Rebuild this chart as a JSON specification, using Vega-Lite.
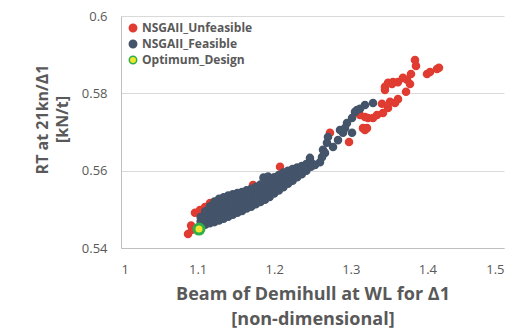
{
  "$schema": "https://vega.github.io/schema/vega-lite/v6.json",
  "autosize": {"type": "none"},
  "padding": {"left": 121, "top": 16, "right": 20, "bottom": 86},
  "width": 383,
  "height": 232,
  "background": "white",
  "config": {
    "view": {"stroke": null},
    "font": "Open Sans",
    "axis": {
      "labelFont": "Open Sans",
      "labelFontSize": 13,
      "labelColor": "#595959",
      "titleFont": "Open Sans",
      "titleFontWeight": "bold",
      "titleColor": "#595959",
      "domainColor": "#BFBFBF",
      "gridColor": "#D9D9D9",
      "ticks": false
    }
  },
  "data": {
    "values": [
      {"x": 1.3838, "y": 0.5886, "series": "NSGAII_Unfeasible"},
      {"x": 1.3851, "y": 0.5871, "series": "NSGAII_Unfeasible"},
      {"x": 1.3786, "y": 0.5850, "series": "NSGAII_Unfeasible"},
      {"x": 1.3995, "y": 0.5850, "series": "NSGAII_Unfeasible"},
      {"x": 1.4034, "y": 0.5855, "series": "NSGAII_Unfeasible"},
      {"x": 1.4125, "y": 0.5863, "series": "NSGAII_Unfeasible"},
      {"x": 1.4151, "y": 0.5866, "series": "NSGAII_Unfeasible"},
      {"x": 1.3734, "y": 0.5835, "series": "NSGAII_Unfeasible"},
      {"x": 1.3681, "y": 0.5840, "series": "NSGAII_Unfeasible"},
      {"x": 1.3616, "y": 0.5829, "series": "NSGAII_Unfeasible"},
      {"x": 1.3551, "y": 0.5829, "series": "NSGAII_Unfeasible"},
      {"x": 1.3486, "y": 0.5827, "series": "NSGAII_Unfeasible"},
      {"x": 1.3446, "y": 0.5817, "series": "NSGAII_Unfeasible"},
      {"x": 1.3446, "y": 0.5809, "series": "NSGAII_Unfeasible"},
      {"x": 1.3538, "y": 0.5824, "series": "NSGAII_Unfeasible"},
      {"x": 1.3773, "y": 0.5824, "series": "NSGAII_Unfeasible"},
      {"x": 1.3721, "y": 0.5804, "series": "NSGAII_Unfeasible"},
      {"x": 1.3616, "y": 0.5785, "series": "NSGAII_Unfeasible"},
      {"x": 1.3577, "y": 0.5775, "series": "NSGAII_Unfeasible"},
      {"x": 1.3512, "y": 0.5778, "series": "NSGAII_Unfeasible"},
      {"x": 1.3486, "y": 0.5762, "series": "NSGAII_Unfeasible"},
      {"x": 1.3407, "y": 0.5773, "series": "NSGAII_Unfeasible"},
      {"x": 1.3420, "y": 0.5749, "series": "NSGAII_Unfeasible"},
      {"x": 1.3342, "y": 0.5744, "series": "NSGAII_Unfeasible"},
      {"x": 1.3290, "y": 0.5736, "series": "NSGAII_Unfeasible"},
      {"x": 1.3225, "y": 0.5736, "series": "NSGAII_Unfeasible"},
      {"x": 1.3185, "y": 0.5739, "series": "NSGAII_Unfeasible"},
      {"x": 1.3120, "y": 0.5744, "series": "NSGAII_Unfeasible"},
      {"x": 1.3159, "y": 0.5710, "series": "NSGAII_Unfeasible"},
      {"x": 1.3211, "y": 0.5710, "series": "NSGAII_Unfeasible"},
      {"x": 1.2728, "y": 0.5698, "series": "NSGAII_Unfeasible"},
      {"x": 1.2977, "y": 0.5674, "series": "NSGAII_Unfeasible"},
      {"x": 1.3185, "y": 0.5705, "series": "NSGAII_Unfeasible"},
      {"x": 1.2076, "y": 0.5610, "series": "NSGAII_Unfeasible"},
      {"x": 1.1723, "y": 0.5563, "series": "NSGAII_Unfeasible"},
      {"x": 1.0927, "y": 0.5447, "series": "NSGAII_Unfeasible"},
      {"x": 1.0875, "y": 0.5436, "series": "NSGAII_Unfeasible"},
      {"x": 1.0915, "y": 0.5458, "series": "NSGAII_Unfeasible"},
      {"x": 1.0966, "y": 0.5491, "series": "NSGAII_Unfeasible"},
      {"x": 1.1031, "y": 0.5498, "series": "NSGAII_Unfeasible"},
      {"x": 1.1097, "y": 0.5506, "series": "NSGAII_Unfeasible"},
      {"x": 1.1162, "y": 0.5516, "series": "NSGAII_Unfeasible"},
      {"x": 1.1227, "y": 0.5519, "series": "NSGAII_Unfeasible"},

      {"x": 1.104, "y": 0.5457, "series": "NSGAII_Feasible"},
      {"x": 1.104, "y": 0.5469, "series": "NSGAII_Feasible"},
      {"x": 1.104, "y": 0.5480, "series": "NSGAII_Feasible"},
      {"x": 1.110, "y": 0.5460, "series": "NSGAII_Feasible"},
      {"x": 1.110, "y": 0.5472, "series": "NSGAII_Feasible"},
      {"x": 1.110, "y": 0.5484, "series": "NSGAII_Feasible"},
      {"x": 1.110, "y": 0.5495, "series": "NSGAII_Feasible"},
      {"x": 1.116, "y": 0.5464, "series": "NSGAII_Feasible"},
      {"x": 1.116, "y": 0.5475, "series": "NSGAII_Feasible"},
      {"x": 1.116, "y": 0.5486, "series": "NSGAII_Feasible"},
      {"x": 1.116, "y": 0.5497, "series": "NSGAII_Feasible"},
      {"x": 1.116, "y": 0.5508, "series": "NSGAII_Feasible"},
      {"x": 1.122, "y": 0.5467, "series": "NSGAII_Feasible"},
      {"x": 1.122, "y": 0.5478, "series": "NSGAII_Feasible"},
      {"x": 1.122, "y": 0.5489, "series": "NSGAII_Feasible"},
      {"x": 1.122, "y": 0.5500, "series": "NSGAII_Feasible"},
      {"x": 1.122, "y": 0.5511, "series": "NSGAII_Feasible"},
      {"x": 1.122, "y": 0.5520, "series": "NSGAII_Feasible"},
      {"x": 1.128, "y": 0.5471, "series": "NSGAII_Feasible"},
      {"x": 1.128, "y": 0.5482, "series": "NSGAII_Feasible"},
      {"x": 1.128, "y": 0.5494, "series": "NSGAII_Feasible"},
      {"x": 1.128, "y": 0.5505, "series": "NSGAII_Feasible"},
      {"x": 1.128, "y": 0.5516, "series": "NSGAII_Feasible"},
      {"x": 1.128, "y": 0.5527, "series": "NSGAII_Feasible"},
      {"x": 1.134, "y": 0.5476, "series": "NSGAII_Feasible"},
      {"x": 1.134, "y": 0.5487, "series": "NSGAII_Feasible"},
      {"x": 1.134, "y": 0.5498, "series": "NSGAII_Feasible"},
      {"x": 1.134, "y": 0.5509, "series": "NSGAII_Feasible"},
      {"x": 1.134, "y": 0.5520, "series": "NSGAII_Feasible"},
      {"x": 1.134, "y": 0.5531, "series": "NSGAII_Feasible"},
      {"x": 1.140, "y": 0.5481, "series": "NSGAII_Feasible"},
      {"x": 1.140, "y": 0.5492, "series": "NSGAII_Feasible"},
      {"x": 1.140, "y": 0.5503, "series": "NSGAII_Feasible"},
      {"x": 1.140, "y": 0.5514, "series": "NSGAII_Feasible"},
      {"x": 1.140, "y": 0.5525, "series": "NSGAII_Feasible"},
      {"x": 1.140, "y": 0.5536, "series": "NSGAII_Feasible"},
      {"x": 1.146, "y": 0.5486, "series": "NSGAII_Feasible"},
      {"x": 1.146, "y": 0.5497, "series": "NSGAII_Feasible"},
      {"x": 1.146, "y": 0.5508, "series": "NSGAII_Feasible"},
      {"x": 1.146, "y": 0.5518, "series": "NSGAII_Feasible"},
      {"x": 1.146, "y": 0.5529, "series": "NSGAII_Feasible"},
      {"x": 1.146, "y": 0.5539, "series": "NSGAII_Feasible"},
      {"x": 1.152, "y": 0.5491, "series": "NSGAII_Feasible"},
      {"x": 1.152, "y": 0.5501, "series": "NSGAII_Feasible"},
      {"x": 1.152, "y": 0.5512, "series": "NSGAII_Feasible"},
      {"x": 1.152, "y": 0.5522, "series": "NSGAII_Feasible"},
      {"x": 1.152, "y": 0.5532, "series": "NSGAII_Feasible"},
      {"x": 1.152, "y": 0.5542, "series": "NSGAII_Feasible"},
      {"x": 1.158, "y": 0.5496, "series": "NSGAII_Feasible"},
      {"x": 1.158, "y": 0.5506, "series": "NSGAII_Feasible"},
      {"x": 1.158, "y": 0.5516, "series": "NSGAII_Feasible"},
      {"x": 1.158, "y": 0.5526, "series": "NSGAII_Feasible"},
      {"x": 1.158, "y": 0.5536, "series": "NSGAII_Feasible"},
      {"x": 1.158, "y": 0.5545, "series": "NSGAII_Feasible"},
      {"x": 1.164, "y": 0.5502, "series": "NSGAII_Feasible"},
      {"x": 1.164, "y": 0.5512, "series": "NSGAII_Feasible"},
      {"x": 1.164, "y": 0.5522, "series": "NSGAII_Feasible"},
      {"x": 1.164, "y": 0.5531, "series": "NSGAII_Feasible"},
      {"x": 1.164, "y": 0.5540, "series": "NSGAII_Feasible"},
      {"x": 1.164, "y": 0.5549, "series": "NSGAII_Feasible"},
      {"x": 1.170, "y": 0.5507, "series": "NSGAII_Feasible"},
      {"x": 1.170, "y": 0.5517, "series": "NSGAII_Feasible"},
      {"x": 1.170, "y": 0.5527, "series": "NSGAII_Feasible"},
      {"x": 1.170, "y": 0.5536, "series": "NSGAII_Feasible"},
      {"x": 1.170, "y": 0.5545, "series": "NSGAII_Feasible"},
      {"x": 1.170, "y": 0.5553, "series": "NSGAII_Feasible"},
      {"x": 1.176, "y": 0.5513, "series": "NSGAII_Feasible"},
      {"x": 1.176, "y": 0.5523, "series": "NSGAII_Feasible"},
      {"x": 1.176, "y": 0.5532, "series": "NSGAII_Feasible"},
      {"x": 1.176, "y": 0.5541, "series": "NSGAII_Feasible"},
      {"x": 1.176, "y": 0.5550, "series": "NSGAII_Feasible"},
      {"x": 1.176, "y": 0.5558, "series": "NSGAII_Feasible"},
      {"x": 1.182, "y": 0.5519, "series": "NSGAII_Feasible"},
      {"x": 1.182, "y": 0.5529, "series": "NSGAII_Feasible"},
      {"x": 1.182, "y": 0.5538, "series": "NSGAII_Feasible"},
      {"x": 1.182, "y": 0.5547, "series": "NSGAII_Feasible"},
      {"x": 1.182, "y": 0.5556, "series": "NSGAII_Feasible"},
      {"x": 1.182, "y": 0.5564, "series": "NSGAII_Feasible"},
      {"x": 1.188, "y": 0.5525, "series": "NSGAII_Feasible"},
      {"x": 1.188, "y": 0.5535, "series": "NSGAII_Feasible"},
      {"x": 1.188, "y": 0.5544, "series": "NSGAII_Feasible"},
      {"x": 1.188, "y": 0.5553, "series": "NSGAII_Feasible"},
      {"x": 1.188, "y": 0.5562, "series": "NSGAII_Feasible"},
      {"x": 1.188, "y": 0.5570, "series": "NSGAII_Feasible"},
      {"x": 1.186, "y": 0.5582, "series": "NSGAII_Feasible"},
      {"x": 1.192, "y": 0.5585, "series": "NSGAII_Feasible"},
      {"x": 1.194, "y": 0.5532, "series": "NSGAII_Feasible"},
      {"x": 1.194, "y": 0.5542, "series": "NSGAII_Feasible"},
      {"x": 1.194, "y": 0.5551, "series": "NSGAII_Feasible"},
      {"x": 1.194, "y": 0.5560, "series": "NSGAII_Feasible"},
      {"x": 1.194, "y": 0.5568, "series": "NSGAII_Feasible"},
      {"x": 1.194, "y": 0.5576, "series": "NSGAII_Feasible"},
      {"x": 1.200, "y": 0.5541, "series": "NSGAII_Feasible"},
      {"x": 1.200, "y": 0.5551, "series": "NSGAII_Feasible"},
      {"x": 1.200, "y": 0.5560, "series": "NSGAII_Feasible"},
      {"x": 1.200, "y": 0.5569, "series": "NSGAII_Feasible"},
      {"x": 1.200, "y": 0.5576, "series": "NSGAII_Feasible"},
      {"x": 1.200, "y": 0.5583, "series": "NSGAII_Feasible"},
      {"x": 1.206, "y": 0.5549, "series": "NSGAII_Feasible"},
      {"x": 1.206, "y": 0.5559, "series": "NSGAII_Feasible"},
      {"x": 1.206, "y": 0.5569, "series": "NSGAII_Feasible"},
      {"x": 1.206, "y": 0.5579, "series": "NSGAII_Feasible"},
      {"x": 1.206, "y": 0.5589, "series": "NSGAII_Feasible"},
      {"x": 1.212, "y": 0.5557, "series": "NSGAII_Feasible"},
      {"x": 1.212, "y": 0.5567, "series": "NSGAII_Feasible"},
      {"x": 1.212, "y": 0.5577, "series": "NSGAII_Feasible"},
      {"x": 1.212, "y": 0.5586, "series": "NSGAII_Feasible"},
      {"x": 1.212, "y": 0.5595, "series": "NSGAII_Feasible"},
      {"x": 1.218, "y": 0.5566, "series": "NSGAII_Feasible"},
      {"x": 1.218, "y": 0.5577, "series": "NSGAII_Feasible"},
      {"x": 1.218, "y": 0.5589, "series": "NSGAII_Feasible"},
      {"x": 1.218, "y": 0.5600, "series": "NSGAII_Feasible"},
      {"x": 1.224, "y": 0.5574, "series": "NSGAII_Feasible"},
      {"x": 1.224, "y": 0.5584, "series": "NSGAII_Feasible"},
      {"x": 1.224, "y": 0.5594, "series": "NSGAII_Feasible"},
      {"x": 1.224, "y": 0.5604, "series": "NSGAII_Feasible"},
      {"x": 1.230, "y": 0.5583, "series": "NSGAII_Feasible"},
      {"x": 1.230, "y": 0.5595, "series": "NSGAII_Feasible"},
      {"x": 1.230, "y": 0.5608, "series": "NSGAII_Feasible"},
      {"x": 1.236, "y": 0.5591, "series": "NSGAII_Feasible"},
      {"x": 1.236, "y": 0.5601, "series": "NSGAII_Feasible"},
      {"x": 1.236, "y": 0.5612, "series": "NSGAII_Feasible"},
      {"x": 1.242, "y": 0.5600, "series": "NSGAII_Feasible"},
      {"x": 1.242, "y": 0.5609, "series": "NSGAII_Feasible"},
      {"x": 1.242, "y": 0.5617, "series": "NSGAII_Feasible"},
      {"x": 1.248, "y": 0.5610, "series": "NSGAII_Feasible"},
      {"x": 1.248, "y": 0.5622, "series": "NSGAII_Feasible"},
      {"x": 1.3290, "y": 0.5775, "series": "NSGAII_Feasible"},
      {"x": 1.3185, "y": 0.5770, "series": "NSGAII_Feasible"},
      {"x": 1.3120, "y": 0.5760, "series": "NSGAII_Feasible"},
      {"x": 1.3081, "y": 0.5757, "series": "NSGAII_Feasible"},
      {"x": 1.3055, "y": 0.5752, "series": "NSGAII_Feasible"},
      {"x": 1.3016, "y": 0.5736, "series": "NSGAII_Feasible"},
      {"x": 1.2950, "y": 0.5723, "series": "NSGAII_Feasible"},
      {"x": 1.2924, "y": 0.5710, "series": "NSGAII_Feasible"},
      {"x": 1.2859, "y": 0.5705, "series": "NSGAII_Feasible"},
      {"x": 1.2898, "y": 0.5698, "series": "NSGAII_Feasible"},
      {"x": 1.3016, "y": 0.5698, "series": "NSGAII_Feasible"},
      {"x": 1.2833, "y": 0.5679, "series": "NSGAII_Feasible"},
      {"x": 1.2768, "y": 0.5661, "series": "NSGAII_Feasible"},
      {"x": 1.2702, "y": 0.5687, "series": "NSGAII_Feasible"},
      {"x": 1.2689, "y": 0.5672, "series": "NSGAII_Feasible"},
      {"x": 1.2637, "y": 0.5654, "series": "NSGAII_Feasible"},
      {"x": 1.2624, "y": 0.5635, "series": "NSGAII_Feasible"},
      {"x": 1.2663, "y": 0.5646, "series": "NSGAII_Feasible"},
      {"x": 1.2598, "y": 0.5622, "series": "NSGAII_Feasible"},
      {"x": 1.2467, "y": 0.5633, "series": "NSGAII_Feasible"},
      {"x": 1.2533, "y": 0.5615, "series": "NSGAII_Feasible"},
      {"x": 1.2376, "y": 0.5607, "series": "NSGAII_Feasible"},
      {"x": 1.2337, "y": 0.5597, "series": "NSGAII_Feasible"},
      {"x": 1.2245, "y": 0.5602, "series": "NSGAII_Feasible"},
      {"x": 1.2206, "y": 0.5594, "series": "NSGAII_Feasible"},

      {"x": 1.1018, "y": 0.5449, "series": "Optimum_Design"}
    ]
  },
  "mark": {"type": "point", "filled": true, "opacity": 1, "shape": "circle"},
  "encoding": {
    "x": {
      "field": "x", "type": "quantitative",
      "scale": {"domain": [1, 1.5], "nice": false, "zero": false},
      "axis": {
        "values": [1, 1.1, 1.2, 1.3, 1.4, 1.5],
        "format": ".1~f",
        "grid": false,
        "labelPadding": 15,
        "title": ["Beam of Demihull at WL for Δ1", "[non-dimensional]"],
        "titleFontSize": 18,
        "titleLineHeight": 25,
        "titlePadding": 9
      }
    },
    "y": {
      "field": "y", "type": "quantitative",
      "scale": {"domain": [0.54, 0.6], "nice": false, "zero": false},
      "axis": {
        "values": [0.54, 0.56, 0.58, 0.6],
        "format": ".2~f",
        "labelPadding": 14,
        "title": ["RT at 21kn/Δ1", "[kN/t]"],
        "titleFontSize": 16,
        "titleLineHeight": 20,
        "titlePadding": 11,
        "titleY": 103
      }
    },
    "color": {
      "field": "series", "type": "nominal",
      "scale": {"domain": ["NSGAII_Unfeasible", "NSGAII_Feasible", "Optimum_Design"], "range": ["#E03C31", "#44546A", "#F2E52C"]},
      "legend": {
        "title": null,
        "orient": "top-left",
        "offset": 4,
        "padding": 2,
        "labelFont": "Open Sans",
        "labelFontSize": 12,
        "labelFontWeight": "bold",
        "labelColor": "#595959",
        "symbolSize": 55,
        "rowPadding": 2,
        "labelOffset": 3,
        "symbolType": "circle",
        "encode": {
          "symbols": {
            "update": {
              "stroke": {"scale": "stroke", "field": "value"},
              "strokeWidth": {"signal": "datum.value === 'Optimum_Design' ? 2.5 : 1"}
            }
          }
        }
      }
    },
    "stroke": {
      "field": "series", "type": "nominal",
      "scale": {"domain": ["NSGAII_Unfeasible", "NSGAII_Feasible", "Optimum_Design"], "range": ["#E03C31", "#44546A", "#2EAF4A"]},
      "legend": null
    },
    "strokeWidth": {
      "condition": {"test": "datum.series === 'Optimum_Design'", "value": 3},
      "value": 1.5
    },
    "size": {
      "condition": {"test": "datum.series === 'Optimum_Design'", "value": 100},
      "value": 50
    }
  }
}
